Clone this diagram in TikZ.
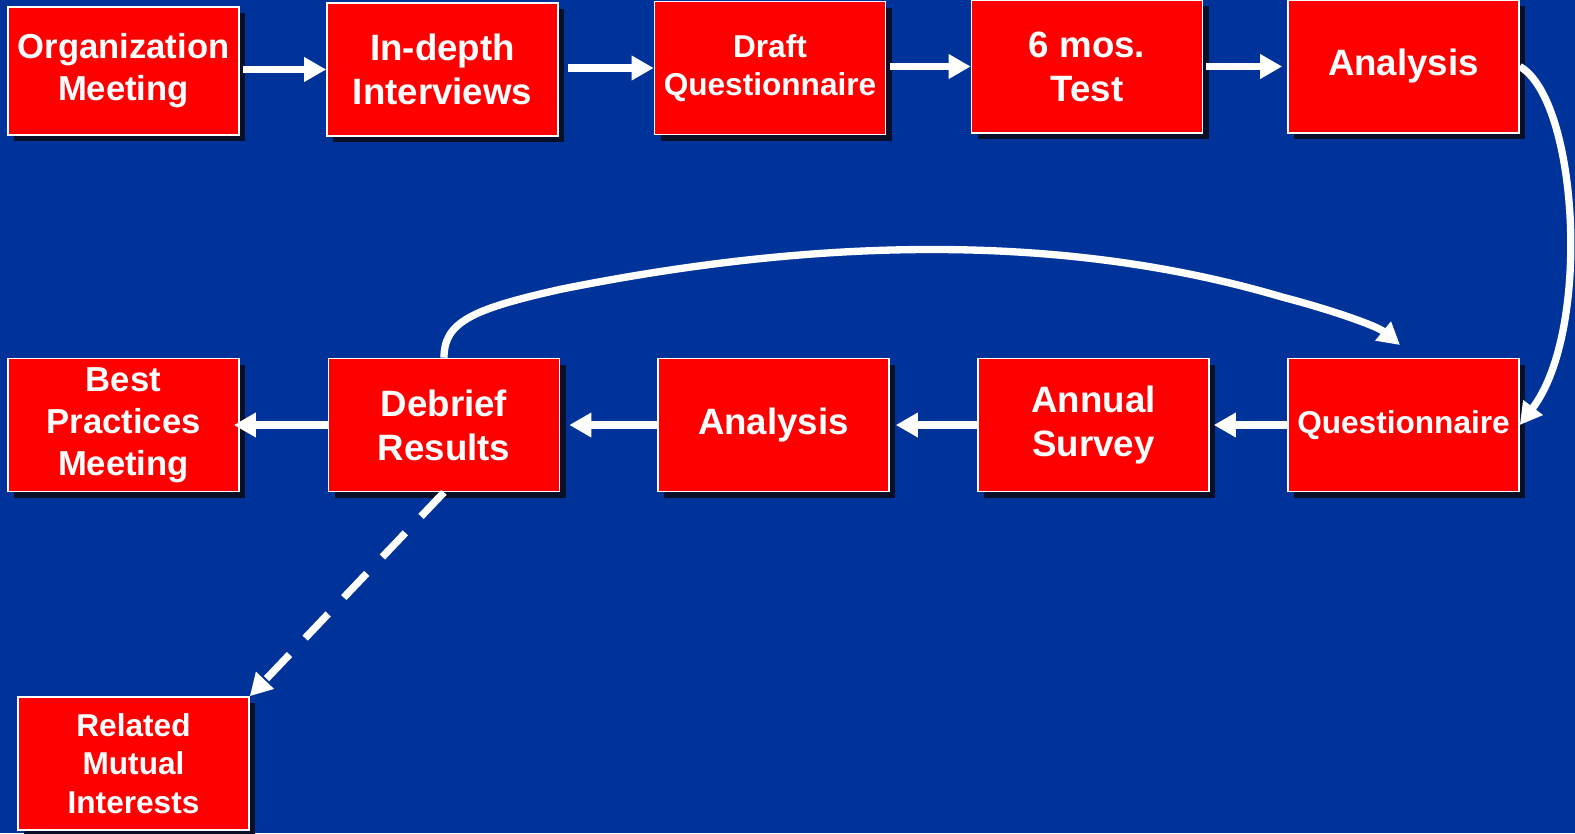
\documentclass[tikz,border=0pt]{standalone}
\usepackage{fontspec}
\setmainfont{Liberation Sans}
\usetikzlibrary{arrows.meta,shadows}

\definecolor{bgblue}{RGB}{0,51,153}
\definecolor{boxred}{RGB}{255,0,0}
\definecolor{shadowc}{RGB}{8,16,40}

\tikzset{every picture/.style={line width=0.75pt}}
\tikzset{
  stepbox/.style={draw=white, line width=1.2pt, fill=boxred, text=white,
    font=\bfseries\fontsize{27.5}{33}\selectfont, align=center,
    minimum width=173.25pt, minimum height=99.75pt, inner sep=0pt,
    general shadow={fill=shadowc, shadow xshift=4.5pt, shadow yshift=-4.5pt}},
  midtext/.style={font=\bfseries\fontsize{26}{31.5}\selectfont},
  smalltext/.style={font=\bfseries\fontsize{23.7}{28.8}\selectfont},
  flow/.style={draw=white, line width=5.5pt, -{Triangle[length=16.5pt,width=17.5pt]}},
  dashflow/.style={flow, dash pattern=on 25pt off 17pt}
}

\begin{document}
\begin{tikzpicture}[x=0.75pt,y=0.75pt,yscale=-1,xscale=1]
%Background
\useasboundingbox (0,0) rectangle (1575,833);
\fill [bgblue] (0,0) rectangle (1575,833);

%Shape: Rectangle - top row
\node [stepbox, midtext, minimum height=96pt] (org) at (123.5,71) {Organization\\Meeting};
\node [stepbox] (interviews) at (442.5,69.5) {In-depth\\Interviews};
\node [stepbox, smalltext] (draft) at (770,68) {Draft\\Questionnaire};
\node [stepbox] (test) at (1087,66.5) {6 mos.\\Test};
\node [stepbox] (analysisA) at (1403.5,66.5) {Analysis};

%Shape: Rectangle - bottom row
\node [stepbox, midtext] (best) at (123.5,425) {Best\\Practices\\Meeting};
\node [stepbox] (debrief) at (444,425) {Debrief\\Results};
\node [stepbox] (analysisB) at (773.5,425) {Analysis};
\node [stepbox] (survey) at (1093.5,425) {Annual\\Survey};
\node [stepbox, smalltext] (questionnaire) at (1403.5,425) {Questionnaire};

%Shape: Rectangle - side branch
\node [stepbox, smalltext] (related) at (133.5,763.5) {Related\\Mutual\\Interests};

\coordinate (qtop) at (1400,345);

%Straight Lines
\draw [flow, shorten <=2.25pt] (interviews.west -| org.east) -- (interviews.west);
\draw [flow, shorten <=6.75pt] (draft.west -| interviews.east) -- (draft.west);
\draw [flow, shorten <=3pt] (test.west -| draft.east) -- (test.west);
\draw [flow, shorten <=2.25pt, shorten >=3.75pt] (test.east) -- (analysisA.west);
\draw [flow, shorten >=3pt] (questionnaire.west) -- (survey.east);
\draw [flow, shorten >=4.5pt] (survey.west) -- (analysisB.east);
\draw [flow, shorten >=6.75pt] (analysisB.west) -- (debrief.east);
\draw [flow, shorten >=-4.5pt] (debrief.west) -- (best.east);

%Curve Lines
\draw [flow] (analysisA.east) .. controls (1578,100) and (1592,330) .. (questionnaire.east);
\draw [flow] (debrief.north) .. controls (444,322) and (472,309) .. (562,289) .. controls (802,241) and (1052,229) .. (1282,297) .. controls (1332,310) and (1377,326) .. (qtop);

%Dashed Line
\draw [dashflow] (debrief.south) -- (related.north east);

\end{tikzpicture}
\end{document}
